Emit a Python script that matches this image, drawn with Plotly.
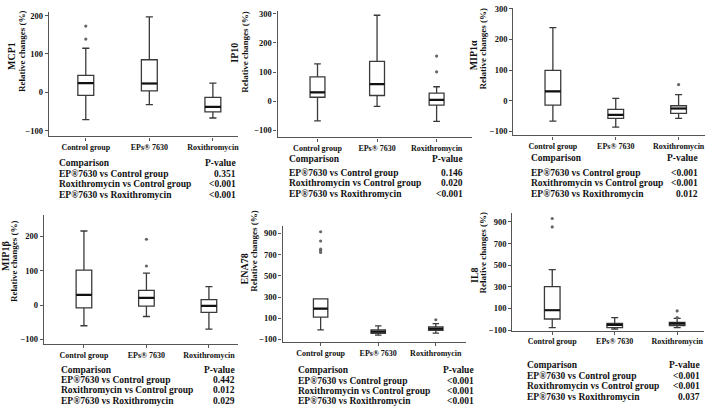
import plotly.graph_objects as go

# ---------------- data ----------------
categories = ["Control group", "EPs® 7630", "Roxithromycin"]
comparisons = ["EP®7630 vs Control group", "Roxithromycin vs Control group", "EP®7630 vs Roxithromycin"]
markers = ["MCP1", "IP10", "MIP1α", "MIP1β", "ENA78", "IL8"]

mcp1_q1 = [-8, 4, -51]
mcp1_med = [24, 23, -38]
mcp1_q3 = [44, 85, -13]
mcp1_lo = [-71, -32, -67]
mcp1_hi = [115, 197, 24]
mcp1_out = [[173, 139], [], []]
mcp1_p = ["0.351", "<0.001", "<0.001"]

ip10_q1 = [14, 20, -13]
ip10_med = [31, 59, 5]
ip10_q3 = [84, 137, 28]
ip10_lo = [-67, -17, -69]
ip10_hi = [128, 295, 50]
ip10_out = [[], [], [155, 101]]
ip10_p = ["0.146", "0.020", "<0.001"]

mip1a_q1 = [-14, -57, -41]
mip1a_med = [31, -46, -25]
mip1a_q3 = [99, -28, -16]
mip1a_lo = [-66, -86, -57]
mip1a_hi = [239, 8, 20]
mip1a_out = [[], [], [53]]
mip1a_p = ["<0.001", "<0.001", "0.012"]

mip1b_q1 = [-8, -3, -21]
mip1b_med = [30, 21, -2]
mip1b_q3 = [102, 43, 16]
mip1b_lo = [-60, -33, -70]
mip1b_hi = [216, 93, 54]
mip1b_out = [[], [192, 114], []]
mip1b_p = ["0.442", "0.012", "0.029"]

ena78_q1 = [110, -44, -14]
ena78_med = [190, -26, 2]
ena78_q3 = [282, -10, 18]
ena78_lo = [-10, -60, -42]
ena78_hi = [282, 27, 48]
ena78_out = [[916, 829, 752, 736, 721], [], [85]]
ena78_p = ["<0.001", "<0.001", "<0.001"]

il8_q1 = [2, -77, -59]
il8_med = [83, -52, -40]
il8_q3 = [302, -38, -29]
il8_lo = [-77, -92, -77]
il8_hi = [458, 14, 7]
il8_out = [[932, 854], [], [77, 16]]
il8_p = ["<0.001", "<0.001", "0.037"]

ticks_small = [-100, 0, 100, 200]
ticks_mid = [-100, 0, 100, 200, 300]
ticks_big = [-100, 100, 300, 500, 700, 900]

# ---------------- layout geometry (pixels) ----------------
W, H = 709, 414
FONT = "Liberation Serif"
GREY = "#555555"

def px(x):
    return x / W

def py(y):
    return 1 - y / H

panels = [
    dict(data=(mcp1_q1, mcp1_med, mcp1_q3, mcp1_lo, mcp1_hi, mcp1_out), p=mcp1_p,
         name=markers[0], x0=49, x1=238, yt=8, yb=135, xr=(-0.58, 2.39), yr=(-115, 210),
         ticks=ticks_small, lab=(12, 53), rel=(22, 48),
         tab_x=58, tab_y=[162, 173, 184, 195], tab_r=237),
    dict(data=(ip10_q1, ip10_med, ip10_q3, ip10_lo, ip10_hi, ip10_out), p=ip10_p,
         name=markers[1], x0=278, x1=473, yt=7, yb=136, xr=(-0.67, 2.6), yr=(-123.5, 310),
         ticks=ticks_mid, lab=(234, 50), rel=(245, 49),
         tab_x=288, tab_y=[158, 172, 183, 194], tab_r=465),
    dict(data=(mip1a_q1, mip1a_med, mip1a_q3, mip1a_lo, mip1a_hi, mip1a_out), p=mip1a_p,
         name=markers[2], x0=514, x1=706, yt=4, yb=134, xr=(-0.63, 2.42), yr=(-112.8, 303),
         ticks=ticks_mid, lab=(475, 52), rel=(484, 46),
         tab_x=531, tab_y=[157, 172, 183, 194], tab_r=700),
    dict(data=(mip1b_q1, mip1b_med, mip1b_q3, mip1b_lo, mip1b_hi, mip1b_out), p=mip1b_p,
         name=markers[3], x0=44, x1=238, yt=215, yb=347, xr=(-0.64, 2.46), yr=(-114, 263),
         ticks=ticks_small, lab=(5, 257), rel=(14, 262),
         tab_x=60, tab_y=[373, 383, 394, 405], tab_r=236),
    dict(data=(ena78_q1, ena78_med, ena78_q3, ena78_lo, ena78_hi, ena78_out), p=ena78_p,
         name=markers[4], x0=283, x1=467, yt=226, yb=345, xr=(-0.66, 2.53), yr=(-128, 974),
         ticks=ticks_big, lab=(245, 270), rel=(254, 252),
         tab_x=297, tab_y=[373, 384, 395, 405], tab_r=476),
    dict(data=(il8_q1, il8_med, il8_q3, il8_lo, il8_hi, il8_out), p=il8_p,
         name=markers[5], x0=513, x1=705, yt=213, yb=333, xr=(-0.64, 2.43), yr=(-105, 984),
         ticks=ticks_big, lab=(475, 276), rel=(484, 254),
         tab_x=527, tab_y=[368, 379, 390, 401], tab_r=702),
]

BOXW = 0.25
fig = go.Figure()
annotations = []
layout_axes = {}

for i, pnl in enumerate(panels):
    k = "" if i == 0 else str(i + 1)
    xa, ya = "x" + k, "y" + k
    q1, med, q3, lo, hi, outs = pnl["data"]
    xs = list(range(len(categories)))
    fig.add_trace(go.Box(
        x=xs, q1=q1, median=med, q3=q3, lowerfence=lo, upperfence=hi,
        width=BOXW, whiskerwidth=0.45, fillcolor="white",
        line=dict(color="#3a3a3a", width=1.3), boxpoints=False,
        xaxis=xa, yaxis=ya, showlegend=False, hoverinfo="skip"))
    # median emphasis
    mx, my = [], []
    for j, m in enumerate(med):
        mx += [j - BOXW / 2, j + BOXW / 2, None]
        my += [m, m, None]
    fig.add_trace(go.Scatter(x=mx, y=my, mode="lines",
                             line=dict(color="#111111", width=2.2),
                             xaxis=xa, yaxis=ya, showlegend=False, hoverinfo="skip"))
    # outliers
    ox, oy = [], []
    for j, o in enumerate(outs):
        ox += [j] * len(o)
        oy += o
    if ox:
        fig.add_trace(go.Scatter(x=ox, y=oy, mode="markers",
                                 marker=dict(symbol="circle", size=3.2, color="#666666"),
                                 xaxis=xa, yaxis=ya, showlegend=False, hoverinfo="skip"))

    layout_axes["xaxis" + k] = dict(
        domain=[px(pnl["x0"]), px(pnl["x1"])], anchor=ya, range=list(pnl["xr"]),
        tickvals=xs, ticktext=categories, showline=True, linecolor=GREY, linewidth=1.3,
        ticks="outside", ticklen=3, tickcolor=GREY, showgrid=False, zeroline=False,
        tickfont=dict(family=FONT, size=8, color="#111", weight="bold"))
    layout_axes["yaxis" + k] = dict(
        domain=[py(pnl["yb"]), py(pnl["yt"])], anchor=xa, range=list(pnl["yr"]),
        tickvals=pnl["ticks"], showline=True, linecolor=GREY, linewidth=1.3,
        ticks="outside", ticklen=3, tickcolor=GREY, showgrid=False, zeroline=False,
        tickfont=dict(family=FONT, size=8.5, color="#111", weight="bold"))

    # y titles
    annotations.append(dict(x=px(pnl["lab"][0]), y=py(pnl["lab"][1]), xref="paper", yref="paper",
                            text="<b>" + pnl["name"] + "</b>", textangle=-90, showarrow=False,
                            font=dict(family=FONT, size=10, color="#111"),
                            xanchor="center", yanchor="middle"))
    annotations.append(dict(x=px(pnl["rel"][0]), y=py(pnl["rel"][1]), xref="paper", yref="paper",
                            text="<b>Relative changes (%)</b>", textangle=-90, showarrow=False,
                            font=dict(family=FONT, size=9, color="#111"),
                            xanchor="center", yanchor="middle"))
    # table
    rows_l = ["Comparison"] + comparisons
    rows_r = ["P-value"] + pnl["p"]
    for r in range(4):
        yy = py(pnl["tab_y"][r])
        annotations.append(dict(x=px(pnl["tab_x"]), y=yy, xref="paper", yref="paper",
                                text="<b>" + rows_l[r] + "</b>", showarrow=False,
                                font=dict(family=FONT, size=9.5, color="#111"),
                                xanchor="left", yanchor="middle", borderpad=0))
        annotations.append(dict(x=px(pnl["tab_r"]), y=yy, xref="paper", yref="paper",
                                text="<b>" + rows_r[r] + "</b>", showarrow=False,
                                font=dict(family=FONT, size=9.5, color="#111"),
                                xanchor="right", yanchor="middle", borderpad=0))

fig.update_layout(
    width=W, height=H, margin=dict(l=0, r=0, t=0, b=0),
    paper_bgcolor="white", plot_bgcolor="white",
    annotations=annotations, **layout_axes)

fig.write_html("out.html", config={"displayModeBar": False},
               post_script="document.body.style.margin='0';document.body.style.overflow='hidden';")
